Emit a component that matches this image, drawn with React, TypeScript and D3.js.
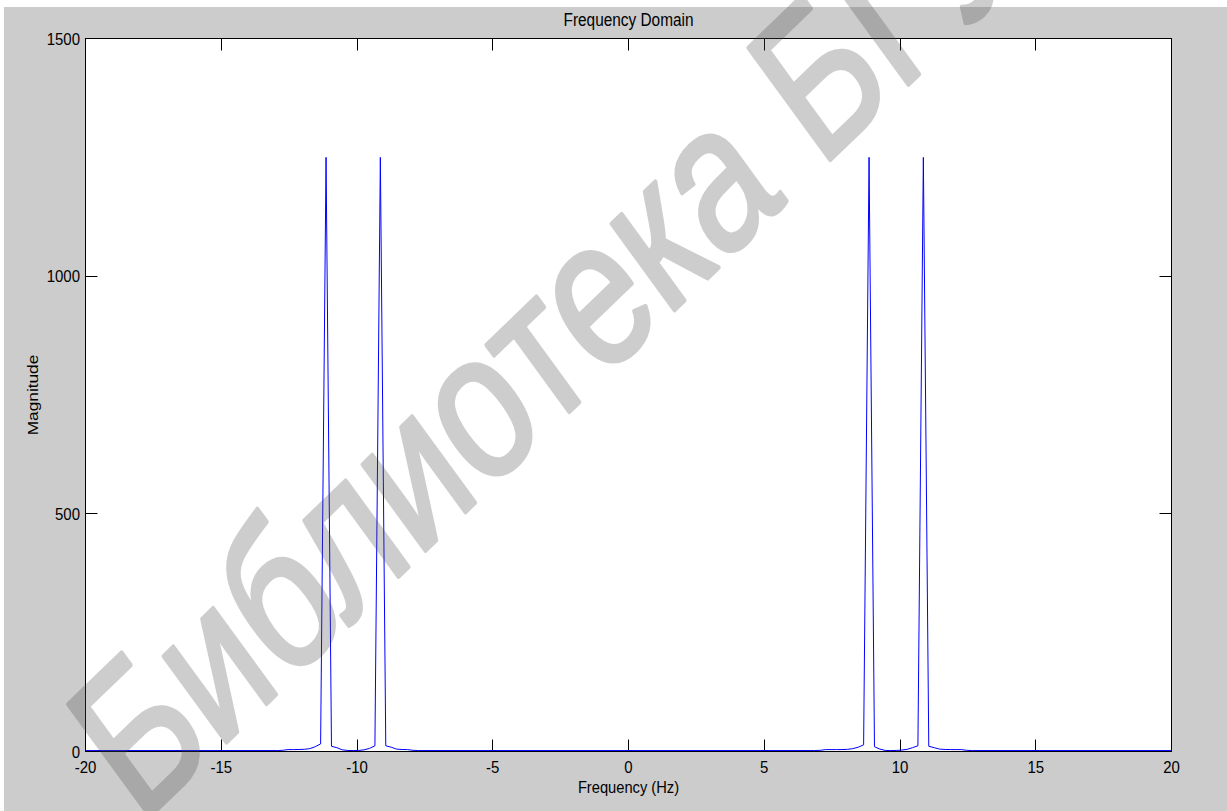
import React from "react";
import * as d3 from "d3";

// Figure geometry
const WIDTH = 1227;
const HEIGHT = 811;
const PLOT = { left: 85.5, right: 1171.5, top: 38.5, bottom: 751.5 };
const TICK_LEN = 12;
const TEXT_STRETCH = 1.15;

// Axis ranges and tick labels
const xDomain: [number, number] = [-20, 20];
const yDomain: [number, number] = [0, 1500];
const xTicks = [-20, -15, -10, -5, 0, 5, 10, 15, 20];
const yTicks = [0, 500, 1000, 1500];

// Magnitude spectrum, [frequency (Hz), magnitude]
const floorLeft: [number, number][] = [
  [-20, 2],
  [-12.94, 2],
];
const negativePair: [number, number][] = [
  [-12.74, 2.5], [-12.54, 4], [-12.34, 4], [-12.14, 4.2], [-11.94, 4.6],
  [-11.74, 6], [-11.54, 10], [-11.34, 16], [-11.14, 1250], [-10.94, 11],
  [-10.74, 8], [-10.54, 3.5], [-10.34, 2.2], [-10.14, 2], [-9.94, 2.2],
  [-9.74, 3.5], [-9.54, 6.5], [-9.34, 12], [-9.14, 1250], [-8.94, 12],
  [-8.74, 9], [-8.54, 5], [-8.34, 4.2], [-8.14, 4], [-7.94, 2.5],
];
const floorMiddle: [number, number][] = [
  [-7.74, 2],
  [6.86, 2],
];
const positivePair: [number, number][] = [
  [7.06, 2.5], [7.26, 4], [7.46, 4], [7.66, 4], [7.86, 4.1], [8.06, 4.5],
  [8.26, 6], [8.46, 9], [8.66, 14], [8.86, 1250], [9.06, 10], [9.26, 5],
  [9.46, 2.2], [9.66, 2], [9.86, 2.2], [10.06, 3], [10.26, 4.5], [10.46, 8],
  [10.66, 12], [10.86, 1250], [11.06, 11], [11.26, 8], [11.46, 5],
  [11.66, 4.3], [11.86, 4.1], [12.06, 4], [12.26, 4], [12.46, 2.5],
];
const floorRight: [number, number][] = [
  [12.66, 2],
  [20, 2],
];

const spectrum = [
  ...floorLeft,
  ...negativePair,
  ...floorMiddle,
  ...positivePair,
  ...floorRight,
];

const FONT = "'Liberation Sans', Arial, sans-serif";

export default function App() {
  const x = d3.scaleLinear().domain(xDomain).range([PLOT.left, PLOT.right]);
  const y = d3.scaleLinear().domain(yDomain).range([PLOT.bottom, PLOT.top]);

  const line = d3
    .line<[number, number]>()
    .x((d) => x(d[0]))
    .y((d) => y(d[1]));

  const crisp = (v: number) => Math.round(v - 0.5) + 0.5;

  return (
    <svg
      width={WIDTH}
      height={HEIGHT}
      style={{ position: "absolute", left: 0, top: 0, display: "block" }}
    >
      <rect x={0} y={0} width={WIDTH} height={HEIGHT} fill="#ffffff" />
      <rect x={4} y={7} width={WIDTH - 4} height={HEIGHT - 7} fill="#cccccc" />

      {/* axes area */}
      <rect
        x={PLOT.left}
        y={PLOT.top}
        width={PLOT.right - PLOT.left}
        height={PLOT.bottom - PLOT.top}
        fill="#ffffff"
      />

      {/* ticks pointing inward on all four sides */}
      <g stroke="#000" strokeWidth={1}>
        {xTicks.map((t) => {
          const xx = crisp(x(t));
          return (
            <g key={`xt${t}`}>
              <line x1={xx} x2={xx} y1={PLOT.bottom} y2={PLOT.bottom - TICK_LEN} />
              <line x1={xx} x2={xx} y1={PLOT.top} y2={PLOT.top + TICK_LEN} />
            </g>
          );
        })}
        {yTicks.map((t) => {
          const yy = crisp(y(t));
          return (
            <g key={`yt${t}`}>
              <line x1={PLOT.left} x2={PLOT.left + TICK_LEN} y1={yy} y2={yy} />
              <line x1={PLOT.right} x2={PLOT.right - TICK_LEN} y1={yy} y2={yy} />
            </g>
          );
        })}
      </g>

      {/* box */}
      <rect
        x={PLOT.left}
        y={PLOT.top}
        width={PLOT.right - PLOT.left}
        height={PLOT.bottom - PLOT.top}
        fill="none"
        stroke="#000"
        strokeWidth={1}
      />

      {/* spectrum trace */}
      <path d={line(spectrum) ?? ""} fill="none" stroke="#0000ff" strokeWidth={1} />

      {/* tick labels */}
      <g fontFamily={FONT} fontSize={15} fill="#000">
        {xTicks.map((t) => (
          <text
            key={`xl${t}`}
            transform={`translate(${x(t)},${772.5}) scale(1,${TEXT_STRETCH})`}
            textAnchor="middle"
          >
            {t}
          </text>
        ))}
        {yTicks.map((t) => (
          <text
            key={`yl${t}`}
            transform={`translate(${80},${y(t) + 6}) scale(1,${TEXT_STRETCH})`}
            textAnchor="end"
          >
            {t}
          </text>
        ))}
      </g>

      {/* title and axis labels */}
      <text
        transform={`translate(${(PLOT.left + PLOT.right) / 2},${26}) scale(1,${TEXT_STRETCH})`}
        textAnchor="middle"
        fontFamily={FONT}
        fontSize={15.4}
        fill="#000"
      >
        Frequency Domain
      </text>
      <text
        transform={`translate(${(PLOT.left + PLOT.right) / 2},${793}) scale(1,${TEXT_STRETCH})`}
        textAnchor="middle"
        fontFamily={FONT}
        fontSize={14.7}
        fill="#000"
      >
        Frequency (Hz)
      </text>
      <text
        transform={`translate(${38.3},${(PLOT.top + PLOT.bottom) / 2}) scale(1,${TEXT_STRETCH}) rotate(-90)`}
        textAnchor="middle"
        fontFamily={FONT}
        fontSize={15}
        fill="#000"
      >
        Magnitude
      </text>

      {/* library stamp across the figure */}
      <g opacity={0.27}>
        <text
          transform={`translate(140,826) scale(1,${TEXT_STRETCH}) rotate(-40) scale(0.84,1)`}
          fontFamily={FONT}
          fontSize={185}
          fill="#4a4a4a"
          stroke="#4a4a4a"
          strokeWidth={4}
          strokeLinejoin="round"
        >
          Библиотека БГУИР
        </text>
      </g>
    </svg>
  );
}
